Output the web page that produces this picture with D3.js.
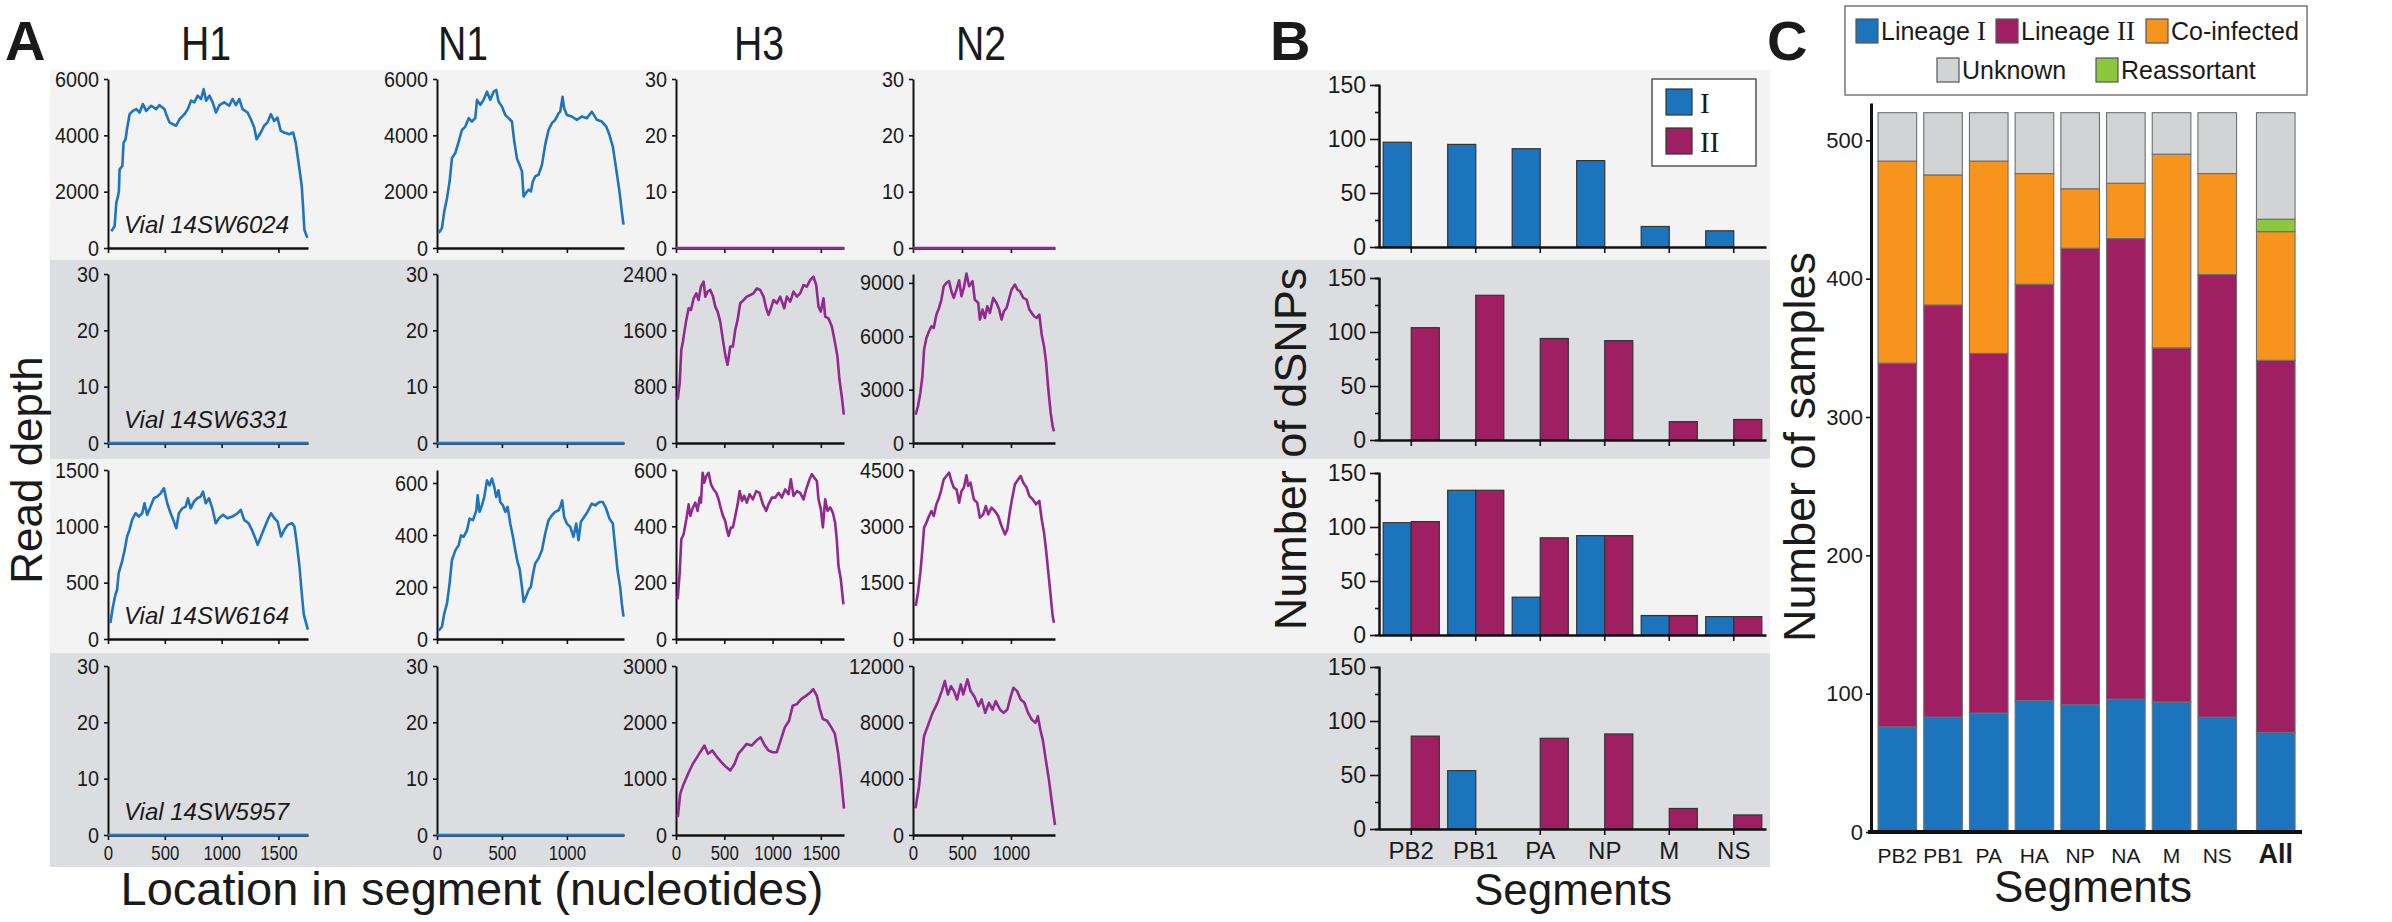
<!DOCTYPE html>
<html><head><meta charset="utf-8">
<script src="https://cdn.jsdelivr.net/npm/d3@7"></script>
<style>body{margin:0;background:#fff}</style>
</head><body>
<script>
// ---------------- DATA ----------------
const segmentNames = ["H1","N1","H3","N2"];
const segmentLengths = [1760,1440,1740,1450];
const vialLabels = ["Vial 14SW6024","Vial 14SW6331","Vial 14SW6164","Vial 14SW5957"];
const xTickValues = [[0,500,1000,1500],[0,500,1000],[0,500,1000,1500],[0,500,1000]];
const yDomainMax = [[6000,6000,30,30],[30,30,2400,9500],[1500,650,600,4500],[30,30,3000,12000]];
const yTickValues = [
 [[0,2000,4000,6000],[0,2000,4000,6000],[0,10,20,30],[0,10,20,30]],
 [[0,10,20,30],[0,10,20,30],[0,800,1600,2400],[0,3000,6000,9000]],
 [[0,500,1000,1500],[0,200,400,600],[0,200,400,600],[0,1500,3000,4500]],
 [[0,10,20,30],[0,10,20,30],[0,1000,2000,3000],[0,4000,8000,12000]]
];

const vial6024_H1 = [[29,594],[58,772],[73,1600],[88,1840],[96,2020],[102,2790],[126,2910],[137,3740],[155,3860],[167,4220],[175,4400],[190,4750],[219,4870],[249,4930],[278,4810],[307,5110],[336,4870],[380,5050],[424,4930],[453,5070],[497,4930],[512,4750],[541,4460],[570,4400],[599,4340],[629,4570],[673,4750],[702,4930],[731,5230],[760,5170],[789,5410],[819,5290],[842,5640],[863,5230],[892,5410],[921,5170],[950,4810],[980,5070],[1023,5170],[1067,5050],[1096,5290],[1126,5070],[1155,5290],[1184,4930],[1228,4810],[1257,4570],[1287,4280],[1307,3860],[1345,4100],[1374,4340],[1404,4460],[1433,4750],[1462,4510],[1491,4630],[1520,4160],[1550,4100],[1594,4040],[1629,4100],[1652,3740],[1681,2910],[1705,2200],[1716,1490],[1728,650],[1754,360]];
const vial6024_N1 = [[13,530],[38,710],[56,1300],[77,1770],[97,2360],[115,3190],[141,3370],[167,3780],[192,4190],[218,4310],[244,4610],[269,4490],[295,4610],[308,5260],[333,5080],[359,5260],[385,5550],[410,5260],[436,5550],[456,5610],[474,5200],[500,5020],[526,4720],[551,4610],[577,4490],[595,3780],[615,3190],[636,2950],[654,2720],[667,1830],[685,1950],[705,2070],[723,2010],[738,2360],[756,2540],[782,2600],[808,2950],[833,3660],[859,4190],[885,4430],[910,4550],[936,4780],[949,4840],[967,5370],[979,4960],[1000,4720],[1038,4670],[1077,4550],[1115,4670],[1154,4610],[1192,4840],[1231,4550],[1269,4490],[1303,4310],[1328,4020],[1354,3600],[1379,2830],[1405,2010],[1423,1300],[1436,830]];
const vial6024_H3 = [[0,0],[1740,0]];
const vial6024_N2 = [[0,0],[1450,0]];

const vial6331_H1 = [[0,0],[1760,0]];
const vial6331_N1 = [[0,0],[1440,0]];
const vial6331_H3 = [[17,614],[38,850],[55,1323],[72,1441],[90,1606],[107,1748],[131,1913],[155,1890],[183,2055],[210,2126],[234,2031],[258,2220],[286,2291],[303,2079],[327,2150],[355,2173],[383,2079],[407,1937],[431,1866],[458,1724],[486,1464],[510,1252],[534,1110],[562,1370],[589,1370],[614,1606],[638,1748],[665,1984],[700,2031],[734,2079],[769,2102],[803,2126],[838,2197],[872,2173],[907,2079],[934,1913],[958,1819],[983,1913],[1010,2031],[1045,1984],[1079,2079],[1121,1913],[1148,2079],[1183,2008],[1217,2150],[1252,2079],[1286,2126],[1321,2244],[1355,2220],[1390,2315],[1424,2362],[1452,2244],[1476,1937],[1500,1866],[1528,2055],[1545,1795],[1579,1771],[1614,1653],[1648,1417],[1672,1228],[1693,898],[1717,661],[1738,402]];
const vial6331_N2 = [[27,1594],[51,2063],[75,2813],[96,3750],[113,5250],[137,5906],[164,6281],[188,6563],[212,6469],[239,7219],[266,7594],[290,8063],[314,8813],[341,9000],[369,9094],[392,8531],[416,8156],[444,8625],[471,9150],[495,8250],[519,8719],[546,9525],[573,8813],[608,9094],[631,8063],[666,7875],[683,6938],[710,7500],[734,7031],[758,7688],[785,7313],[819,8156],[853,7875],[880,7500],[904,6938],[928,7406],[956,7594],[983,8156],[1007,8625],[1041,8906],[1065,8625],[1092,8531],[1126,8156],[1160,8063],[1188,7500],[1212,7313],[1236,7125],[1263,7031],[1290,7219],[1314,6094],[1338,5438],[1358,4594],[1382,3000],[1406,1688],[1426,938],[1440,656]];

const vial6164_H1 = [[21,142],[41,275],[65,393],[80,437],[94,585],[124,688],[147,791],[168,910],[189,969],[212,1057],[242,1116],[271,1087],[301,1116],[321,1205],[345,1102],[374,1175],[404,1249],[433,1264],[463,1293],[492,1338],[521,1205],[551,1116],[580,1042],[601,983],[624,1116],[654,1160],[683,1175],[704,1249],[727,1160],[757,1219],[786,1249],[815,1264],[836,1308],[860,1205],[889,1249],[918,1160],[948,1028],[977,1072],[1013,1102],[1051,1072],[1095,1087],[1140,1116],[1169,1146],[1198,1057],[1237,1028],[1266,969],[1296,895],[1317,836],[1346,910],[1375,983],[1405,1057],[1434,1116],[1464,1072],[1493,1042],[1523,910],[1552,969],[1582,1013],[1620,1028],[1641,998],[1661,851],[1685,644],[1705,408],[1723,216],[1759,83]];
const vial6164_N1 = [[13,32],[38,47],[56,98],[77,137],[97,214],[115,303],[141,341],[167,361],[185,399],[205,393],[231,418],[251,463],[277,457],[303,495],[313,553],[328,489],[346,514],[364,546],[385,610],[405,591],[423,617],[441,585],[456,546],[474,572],[487,527],[508,514],[526,489],[544,508],[564,444],[585,393],[603,341],[620,297],[636,271],[654,201],[667,143],[685,162],[705,188],[723,201],[738,246],[756,290],[782,310],[808,341],[833,405],[859,457],[885,476],[910,489],[936,495],[949,508],[964,533],[979,469],[1000,444],[1026,431],[1051,393],[1072,444],[1090,380],[1108,451],[1133,469],[1159,489],[1192,521],[1218,514],[1251,527],[1277,527],[1303,501],[1328,463],[1354,444],[1372,354],[1390,265],[1410,201],[1423,137],[1436,86]];
const vial6164_H3 = [[17,141],[38,235],[55,354],[79,372],[107,425],[131,478],[148,437],[176,467],[200,484],[224,455],[245,502],[258,484],[276,590],[293,555],[314,579],[338,590],[362,549],[390,531],[417,519],[441,496],[458,472],[486,437],[510,419],[527,389],[545,366],[569,396],[589,396],[614,437],[638,478],[659,525],[683,490],[707,508],[734,484],[762,514],[796,496],[831,525],[865,519],[900,478],[934,455],[958,478],[993,502],[1028,502],[1062,519],[1096,502],[1131,531],[1165,514],[1189,567],[1217,508],[1252,525],[1286,519],[1321,496],[1348,531],[1383,567],[1407,585],[1431,573],[1459,561],[1476,496],[1500,461],[1521,396],[1545,496],[1569,455],[1597,467],[1624,449],[1648,413],[1665,354],[1683,259],[1707,212],[1734,123]];
const vial6164_N2 = [[27,879],[51,1234],[75,1766],[96,2388],[113,2965],[137,3098],[164,3275],[188,3408],[212,3275],[239,3586],[266,3763],[290,3985],[314,4252],[341,4340],[369,4429],[392,4207],[416,4030],[444,3985],[471,3630],[495,3941],[519,4030],[546,4358],[563,4074],[587,4163],[621,3719],[655,3630],[683,3231],[717,3320],[744,3542],[768,3320],[802,3497],[836,3408],[870,3275],[904,3009],[939,2787],[963,2920],[990,3408],[1017,3808],[1041,4119],[1075,4252],[1099,4340],[1126,4163],[1160,4030],[1188,3808],[1222,3719],[1256,3586],[1290,3675],[1314,3187],[1338,2832],[1358,2388],[1382,1766],[1406,1145],[1426,612],[1440,435]];

const vial5957_H1 = [[0,0],[1760,0]];
const vial5957_N1 = [[0,0],[1440,0]];
const vial5957_H3 = [[19,323],[44,735],[81,911],[125,1088],[175,1264],[219,1382],[250,1470],[294,1588],[332,1441],[376,1500],[426,1382],[469,1294],[520,1206],[563,1147],[607,1264],[645,1441],[689,1529],[732,1617],[783,1588],[833,1676],[876,1735],[920,1588],[958,1500],[1002,1470],[1045,1470],[1083,1676],[1127,1911],[1171,2029],[1208,2293],[1252,2323],[1296,2411],[1346,2470],[1390,2529],[1421,2588],[1459,2470],[1490,2235],[1521,2058],[1565,2029],[1609,1911],[1646,1794],[1678,1470],[1709,1029],[1740,470]];
const vial5957_N2 = [[25,1900],[62,3445],[88,5346],[112,7009],[150,7722],[200,8672],[250,9385],[294,10217],[325,10930],[356,9979],[388,10573],[419,10217],[450,9623],[488,10692],[513,9979],[556,11049],[588,10217],[625,9860],[669,9147],[700,9623],[738,8672],[775,9385],[813,8910],[844,9504],[888,8910],[925,8672],[963,8910],[994,9742],[1025,10454],[1063,10217],[1100,9623],[1138,9385],[1175,8672],[1213,8197],[1250,7960],[1275,8435],[1300,7484],[1325,6772],[1356,5346],[1388,3920],[1419,2257],[1450,713]];

// Panel B
const dsnpSegments = ["PB2","PB1","PA","NP","M","NS"];
const dsnpLineageI  = [[97,95,91,80,19,15],[0,0,0,0,0,0],[104,134,35,92,18,17],[0,54,0,0,0,0]];
const dsnpLineageII = [[0,0,0,0,0,0],[104,134,94,92,17,19],[105,134,90,92,18,17],[86,0,84,88,19,13]];
const dsnpTicks = [0,50,100,150];
const dsnpMinorTicks = [25,75,125];

// Panel C
const sampleSegments = ["PB2","PB1","PA","HA","NP","NA","M","NS","All"];
const lineageI    = [76,83,86,95,92,96,94,83,72];
const lineageII   = [263,298,260,301,330,333,256,320,269];
const coInfected  = [146,94,139,80,43,40,140,73,93];
const reassortant = [0,0,0,0,0,0,0,0,9];
const unknown     = [35,45,35,44,55,51,30,44,77];
const sampleTicks = [0,100,200,300,400,500];

// ---------------- DRAWING ----------------
const SANS = "'Liberation Sans', Arial, Helvetica, sans-serif";
const SERIF = "'Liberation Serif', 'Times New Roman', serif";
const INK = "#1a1a1a";
const BLUE_LINE = "#1f74bd", PURPLE_LINE = "#912a8e";
const BLUE = "#1c75bc", MAGENTA = "#9e1f62", ORANGE = "#f7941d", GREY = "#d1d3d4", GREEN = "#8dc63f";
const LIGHT_BG = "#f3f3f3", DARK_BG = "#dcdde0";
const fmt = d3.format("d");

const svg = d3.select("body").append("svg").attr("width",2392).attr("height",922)
  .style("font-family",SANS);

function styleAxis(g, fs, sw){
  g.attr("font-family",SANS).attr("font-size",fs);
  g.select(".domain").attr("stroke","#111").attr("stroke-width",sw);
  g.selectAll(".tick line").attr("stroke","#111").attr("stroke-width",1.6);
  g.selectAll(".tick text").attr("fill",INK);
  g.selectAll(".tick text").filter(function(){ return this.textContent===""; }).remove();
}

// background bands (shared by A and B)
const bandEdges = [70,260,459,653,867];
for (let r=0;r<4;r++){
  svg.append("rect").attr("x",50).attr("y",bandEdges[r]).attr("width",1720)
    .attr("height",bandEdges[r+1]-bandEdges[r]).attr("fill", r%2===0?LIGHT_BG:DARK_BG);
}

// panel letters
[["A",5],["B",1270],["C",1767]].forEach(([t,x])=>{
  svg.append("text").attr("x",x).attr("y",60).attr("font-size",56).attr("font-weight","bold")
    .attr("fill",INK).text(t);
});

// ---- Panel A ----
const depthSeries = [
  [vial6024_H1, vial6024_N1, vial6024_H3, vial6024_N2],
  [vial6331_H1, vial6331_N1, vial6331_H3, vial6331_N2],
  [vial6164_H1, vial6164_N1, vial6164_H3, vial6164_N2],
  [vial5957_H1, vial5957_N1, vial5957_H3, vial5957_N2]
];
const colX0 = [108,437,676,913], colX1 = [308,624,844,1055];
const titleCX = [206,463,759,981];
const rowZero = [248,443,639,835], plotH = 169;

segmentNames.forEach((n,c)=>{
  svg.append("text").attr("transform",`translate(${titleCX[c]},60) scale(0.8,1)`)
    .attr("text-anchor","middle").attr("font-size",49).attr("fill",INK).text(n);
});

for (let r=0;r<4;r++){
  for (let c=0;c<4;c++){
    const x = d3.scaleLinear().domain([0,segmentLengths[c]]).range([colX0[c],colX1[c]]);
    const y = d3.scaleLinear().domain([0,yDomainMax[r][c]]).range([rowZero[r],rowZero[r]-plotH]);
    const gy = svg.append("g").attr("transform",`translate(${colX0[c]},0)`)
      .call(d3.axisLeft(y).tickValues(yTickValues[r][c]).tickSize(4).tickSizeOuter(0).tickPadding(5).tickFormat(fmt));
    styleAxis(gy,22,2);
    gy.selectAll(".tick text").attr("transform","scale(0.9,1)").attr("x",-10);
    const gx = svg.append("g").attr("transform",`translate(0,${rowZero[r]})`)
      .call(d3.axisBottom(x).tickValues(xTickValues[c]).tickSize(5).tickSizeOuter(0).tickPadding(5)
        .tickFormat(r===3? fmt : ""));
    styleAxis(gx,21,2.4);
    gx.selectAll(".tick text").attr("transform","scale(0.8,1)");
    const line = d3.line().x(d=>x(d[0])).y(d=>y(d[1]));
    svg.append("path").datum(depthSeries[r][c]).attr("d",line).attr("fill","none")
      .attr("stroke", c<2?BLUE_LINE:PURPLE_LINE).attr("stroke-width",2.6)
      .attr("stroke-linejoin","round");
  }
  svg.append("text").attr("x",124).attr("y",rowZero[r]-15).attr("font-size",24)
    .attr("font-style","italic").attr("fill",INK).text(vialLabels[r]);
}
svg.append("text").attr("transform","translate(42,470) rotate(-90)").attr("text-anchor","middle")
  .attr("font-size",44).attr("fill",INK).text("Read depth");
svg.append("text").attr("x",472).attr("y",905).attr("text-anchor","middle")
  .attr("font-size",47).attr("fill",INK).text("Location in segment (nucleotides)");

// ---- Panel B ----
const bZero = [247,440,635,829], bH = 162;
const xB = d3.scaleBand().domain(dsnpSegments).range([1379,1766]).paddingInner(0.13).paddingOuter(0.065);
const xBsub = d3.scaleBand().domain(["I","II"]).range([0,xB.bandwidth()]);
for (let r=0;r<4;r++){
  const y = d3.scaleLinear().domain([0,150]).range([bZero[r],bZero[r]-bH]);
  const gm = svg.append("g").attr("transform","translate(1379,0)")
    .call(d3.axisLeft(y).tickValues(dsnpMinorTicks).tickSize(4).tickFormat(""));
  styleAxis(gm,22,2);
  const gy = svg.append("g").attr("transform","translate(1379,0)")
    .call(d3.axisLeft(y).tickValues(dsnpTicks).tickSize(9).tickSizeOuter(0).tickPadding(4).tickFormat(fmt));
  styleAxis(gy,23,2);
  const rows = dsnpSegments.map((s,i)=>({seg:s, I:dsnpLineageI[r][i], II:dsnpLineageII[r][i]}));
  const bars = [];
  rows.forEach(d=>{ ["I","II"].forEach(k=>{ if(d[k]>0) bars.push({seg:d.seg,k:k,v:d[k]}); }); });
  svg.append("g").selectAll("rect").data(bars).join("rect")
    .attr("x",d=>xB(d.seg)+xBsub(d.k)).attr("width",xBsub.bandwidth())
    .attr("y",d=>y(d.v)).attr("height",d=>y(0)-y(d.v))
    .attr("fill",d=>d.k==="I"?BLUE:MAGENTA).attr("stroke","#333").attr("stroke-width",1.2);
  const gx = svg.append("g").attr("transform",`translate(0,${bZero[r]})`)
    .call(d3.axisBottom(xB).tickSize(6).tickSizeOuter(0).tickPadding(7)
      .tickFormat(r===3? d=>d : ""));
  styleAxis(gx,24,2.4);
}
// legend B
const legB = svg.append("g");
legB.append("rect").attr("x",1652).attr("y",79).attr("width",104).attr("height",87)
  .attr("fill","#fff").attr("stroke","#555").attr("stroke-width",1.5);
[["I",BLUE,89],["II",MAGENTA,128]].forEach(([t,col,yy])=>{
  legB.append("rect").attr("x",1666).attr("y",yy).attr("width",26).attr("height",26)
    .attr("fill",col).attr("stroke","#333").attr("stroke-width",1.2);
  legB.append("text").attr("x",1700).attr("y",yy+24).attr("font-family",SERIF)
    .attr("font-size",29).attr("fill",INK).text(t);
});
svg.append("text").attr("transform","translate(1306,449) rotate(-90)").attr("text-anchor","middle")
  .attr("font-size",45).attr("fill",INK).text("Number of dSNPs");
svg.append("text").attr("x",1573).attr("y",905).attr("text-anchor","middle")
  .attr("font-size",44).attr("fill",INK).text("Segments");

// ---- Panel C ----
const yC = d3.scaleLinear().domain([0,527]).range([832,103]);
const segOnly = sampleSegments.slice(0,8);
const xC = d3.scaleBand().domain(segOnly).range([1874.5,2240.1]).paddingInner(0.155).paddingOuter(0.0775);
const xCpos = d => d==="All" ? xC("NS") + xC.step() + 12.8 : xC(d);
const table = sampleSegments.map((s,i)=>({seg:s, I:lineageI[i], II:lineageII[i], Co:coInfected[i], Re:reassortant[i], Un:unknown[i]}));
const keys = ["I","II","Co","Re","Un"];
const colorC = {I:BLUE, II:MAGENTA, Co:ORANGE, Re:GREEN, Un:GREY};
const stacked = d3.stack().keys(keys)(table);
svg.append("g").selectAll("g").data(stacked).join("g").attr("fill",d=>colorC[d.key])
  .selectAll("rect").data(d=>d.filter(p=>p[1]>p[0])).join("rect")
  .attr("x",d=>xCpos(d.data.seg)).attr("width",xC.bandwidth())
  .attr("y",d=>yC(d[1])).attr("height",d=>yC(d[0])-yC(d[1]))
  .attr("stroke","#6d6e71").attr("stroke-width",1.1);
const gyC = svg.append("g").attr("transform","translate(1871,0)")
  .call(d3.axisLeft(yC).tickValues(sampleTicks).tickSize(5).tickSizeOuter(0).tickPadding(3).tickFormat(fmt));
styleAxis(gyC,22,3);
svg.append("line").attr("x1",1868).attr("x2",2302).attr("y1",yC(0)).attr("y2",yC(0))
  .attr("stroke","#111").attr("stroke-width",4);
svg.append("g").selectAll("text").data(sampleSegments).join("text")
  .attr("x",d=>xCpos(d)+xC.bandwidth()/2).attr("y",863).attr("text-anchor","middle")
  .attr("font-size",d=>d==="All"?27:21).attr("font-weight",d=>d==="All"?"bold":"normal")
  .attr("fill",INK).text(d=>d);
svg.append("text").attr("transform","translate(1815,447) rotate(-90)").attr("text-anchor","middle")
  .attr("font-size",45).attr("fill",INK).text("Number of samples");
svg.append("text").attr("x",2093).attr("y",902).attr("text-anchor","middle")
  .attr("font-size",44).attr("fill",INK).text("Segments");

// legend C
const legC = svg.append("g");
legC.append("rect").attr("x",1845).attr("y",6).attr("width",462).attr("height",89)
  .attr("fill","#fff").attr("stroke","#777").attr("stroke-width",1.5);
const legItems = [
  {key:"I", label:"Lineage ", roman:"I", x:1856, y:19},
  {key:"II", label:"Lineage ", roman:"II", x:1996, y:19},
  {key:"Co", label:"Co-infected", roman:"", x:2146, y:19},
  {key:"Un", label:"Unknown", roman:"", x:1937, y:58},
  {key:"Re", label:"Reassortant", roman:"", x:2096, y:58}
];
legItems.forEach(it=>{
  legC.append("rect").attr("x",it.x).attr("y",it.y).attr("width",22).attr("height",24)
    .attr("fill",colorC[it.key]).attr("stroke","#555").attr("stroke-width",1.2);
  const t = legC.append("text").attr("x",it.x+25).attr("y",it.y+21).attr("font-size",25).attr("fill",INK);
  t.append("tspan").text(it.label);
  if (it.roman) t.append("tspan").attr("font-family",SERIF).attr("font-size",27).text(it.roman);
});
</script>
</body></html>
